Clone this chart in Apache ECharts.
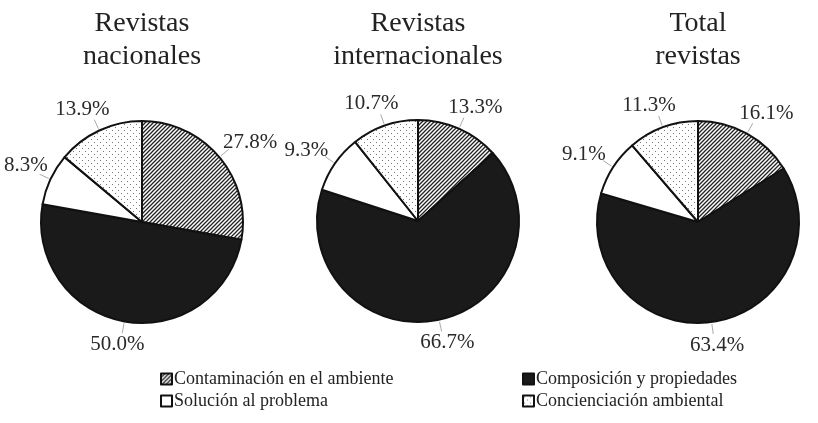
<!DOCTYPE html>
<html>
<head>
<meta charset="utf-8">
<script src="https://cdn.jsdelivr.net/npm/echarts@6/dist/echarts.min.js"></script>
<style>
  html, body { margin: 0; padding: 0; background: #fff; }
  #chart { width: 818px; height: 423px; }
</style>
</head>
<body>
<div id="chart"></div>
<script>
const categories = ['Contaminación en el ambiente', 'Composición y propiedades', 'Solución al problema', 'Concienciación ambiental'];
const titles = ['Revistas\nnacionales', 'Revistas\ninternacionales', 'Total\nrevistas'];
const nacionales = [27.8, 50.0, 8.3, 13.9];
const internacionales = [13.3, 66.7, 9.3, 10.7];
const totalRevistas = [16.1, 63.4, 9.1, 11.3];

const font = '"Liberation Serif", "DejaVu Serif", serif';
const centers = [[142, 222], [418, 221], [698, 222]];
const radius = 101;
const gap = 13;
const seriesValues = [nacionales, internacionales, totalRevistas];

function hatchPattern() {
    const c = document.createElement('canvas');
    c.width = 4; c.height = 4;
    const ctx = c.getContext('2d');
    ctx.fillStyle = '#fff';
    ctx.fillRect(0, 0, 4, 4);
    ctx.strokeStyle = '#222';
    ctx.lineWidth = 1.3;
    ctx.beginPath();
    ctx.moveTo(-1, 5); ctx.lineTo(5, -1);
    ctx.moveTo(-1, 1); ctx.lineTo(1, -1);
    ctx.moveTo(3, 5); ctx.lineTo(5, 3);
    ctx.stroke();
    return c;
}

function dotPattern() {
    const c = document.createElement('canvas');
    c.width = 6; c.height = 6;
    const ctx = c.getContext('2d');
    ctx.fillStyle = '#fff';
    ctx.fillRect(0, 0, 6, 6);
    ctx.fillStyle = '#777';
    ctx.fillRect(1, 1, 1, 1);
    ctx.fillRect(4, 4, 1, 1);
    return c;
}

const fills = [
    { image: hatchPattern(), repeat: 'repeat' },
    '#1a1a1a',
    '#ffffff',
    { image: dotPattern(), repeat: 'repeat' }
];

function buildData(values) {
    return values.map((v, i) => ({
        name: categories[i],
        value: v,
        itemStyle: { color: fills[i] }
    }));
}

// put each label just outside the slice, along its middle angle
function placeLabel(params) {
    const s = params.seriesIndex, i = params.dataIndex;
    const vals = seriesValues[s];
    const sum = vals.reduce((a, b) => a + b, 0);
    let cum = 0;
    for (let k = 0; k < i; k++) cum += vals[k];
    const mid = (cum + vals[i] / 2) / sum * 2 * Math.PI;
    const ux = Math.sin(mid), uy = -Math.cos(mid);
    const [cx, cy] = centers[s];
    const w = params.labelRect.width, h = params.labelRect.height;
    const d = radius + gap;
    const p1 = [cx + ux * (radius + 2), cy + uy * (radius + 2)];
    const p2 = [cx + ux * (d - 1), cy + uy * (d - 1)];
    let x = cx + ux * d + ux * w / 2;
    let y = cy + uy * d + uy * h / 2;
    // keep it inside the canvas, nudging up like the original does
    if (x - w / 2 < 4) {
        y -= (w / 2 + 4 - x) * 0.6;
        x = w / 2 + 4;
    }
    return {
        x: x,
        y: y,
        align: 'center',
        verticalAlign: 'middle',
        labelLinePoints: [p1, p2, p2]
    };
}

const option = {
    animation: false,
    backgroundColor: '#fff',
    title: titles.map((t, i) => ({
        text: t,
        left: centers[i][0],
        top: 7,
        padding: 0,
        textAlign: 'center',
        textStyle: {
            fontFamily: font, fontWeight: 'normal', fontSize: 28,
            color: '#222', lineHeight: 33
        }
    })),
    legend: [
        {
            left: 155, top: 365, orient: 'vertical', itemGap: 4,
            data: [categories[0], categories[2]]
        },
        {
            left: 517, top: 365, orient: 'vertical', itemGap: 4,
            data: [categories[1], categories[3]]
        }
    ].map(l => Object.assign(l, {
        icon: 'rect', itemWidth: 11, itemHeight: 11,
        selectedMode: false,
        textStyle: { fontFamily: font, fontSize: 18, color: '#222', padding: [0, 0, 0, -3] }
    })),
    series: seriesValues.map((vals, i) => ({
        type: 'pie',
        center: centers[i],
        radius: radius,
        startAngle: 90,
        clockwise: true,
        data: buildData(vals),
        itemStyle: { borderColor: '#111', borderWidth: 2 },
        label: {
            position: 'outside',
            overflow: 'none',
            formatter: p => p.value.toFixed(1) + '%',
            fontFamily: font, fontSize: 21, color: '#2a2a2a'
        },
        labelLine: { show: true, lineStyle: { color: '#aaa', width: 1 } },
        labelLayout: placeLabel,
        emphasis: { disabled: true }
    }))
};

const chart = echarts.init(document.getElementById('chart'));
chart.setOption(option);
</script>
</body>
</html>
